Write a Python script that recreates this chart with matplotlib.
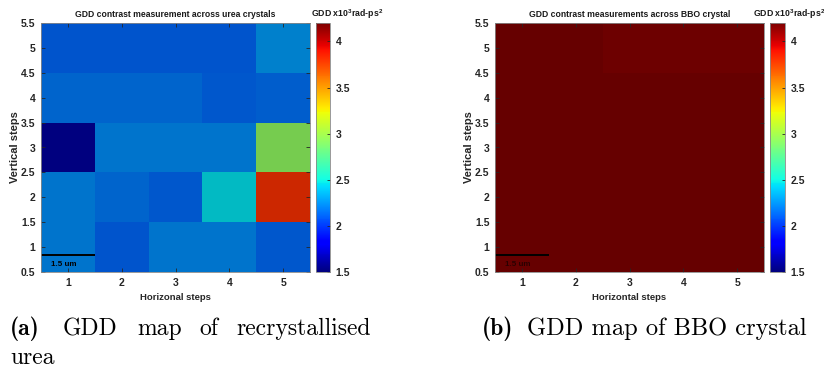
import numpy as np
import matplotlib
matplotlib.use("Agg")
import matplotlib.pyplot as plt
from matplotlib.colors import ListedColormap, Normalize
from matplotlib.cm import ScalarMappable

plt.rcParams['font.family'] = ['Liberation Sans', 'DejaVu Sans']
plt.rcParams['mathtext.fontset'] = 'custom'
plt.rcParams['mathtext.rm'] = 'Liberation Sans:bold'
plt.rcParams['mathtext.default'] = 'rm'

# GDD values (x10^3 rad-ps^2), rows are vertical steps 1..5, columns horizontal steps 1..5
urea_gdd = np.array([
    [2.22, 2.12, 2.22, 2.22, 2.13],
    [2.22, 2.17, 2.13, 2.45, 3.81],
    [1.58, 2.22, 2.22, 2.22, 2.93],
    [2.17, 2.17, 2.17, 2.13, 2.15],
    [2.12, 2.12, 2.12, 2.12, 2.26],
])
bbo_gdd = np.array([
    [4.25, 4.25, 4.25, 4.25, 4.25],
    [4.25, 4.25, 4.25, 4.25, 4.25],
    [4.25, 4.25, 4.25, 4.25, 4.25],
    [4.25, 4.25, 4.25, 4.25, 4.25],
    [4.25, 4.25, 4.17, 4.17, 4.17],
])
steps = [1, 2, 3, 4, 5]
ytick_vals = [0.5, 1, 1.5, 2, 2.5, 3, 3.5, 4, 4.5, 5, 5.5]
ytick_labels = ['0.5', '1', '1.5', '2', '2.5', '3', '3.5', '4', '4.5', '5', '5.5']
cbar_ticks = [1.5, 2, 2.5, 3, 3.5, 4]
vmin, vmax = 1.5, 4.2

# jet for the cells, a bit muted like the scanned figure
jet = plt.get_cmap('jet')(np.linspace(0, 1, 256))[:, :3] * 0.8
muted_jet = ListedColormap(jet)
norm = Normalize(vmin=vmin, vmax=vmax)

W, H = 824, 368
fig = plt.figure(figsize=(W / 100, H / 100), dpi=100)


def px(x0, y0, x1, y1):
    return [x0 / W, 1 - y1 / H, (x1 - x0) / W, (y1 - y0) / H]


panels = [
    (urea_gdd, 'GDD contrast measurement across urea crystals', 'Horizonal steps',
     px(41, 23, 310, 272), px(316, 23, 330, 272), 'black', 311),
    (bbo_gdd, 'GDD contrast measurements across BBO crystal', 'Horizontal steps',
     px(495, 23, 764, 272), px(770, 23, 785, 272), '#2a0000', 753),
]

tick_color = '#262626'
for data, title, xlabel, apos, cpos, barcol, lab_x in panels:
    ax = fig.add_axes(apos)
    edges = np.arange(0.5, 6.0, 1.0)
    ax.pcolormesh(edges, edges, data, cmap=muted_jet, norm=norm)
    ax.set_xlim(0.5, 5.5)
    ax.set_ylim(0.5, 5.5)
    ax.set_xticks(steps)
    ax.set_yticks(ytick_vals)
    ax.set_yticklabels(ytick_labels)
    ax.tick_params(direction='in', top=True, right=True, length=3, width=0.6,
                   labelsize=7.5, colors=tick_color, pad=4)
    for lab in ax.get_xticklabels() + ax.get_yticklabels():
        lab.set_fontweight('bold')
    for s in ax.spines.values():
        s.set_color('#888888')
        s.set_linewidth(0.6)
    ax.set_title(title, fontsize=6.2, fontweight='bold', color='#1a1a1a', pad=4)
    ax.set_xlabel(xlabel, fontsize=6.8, fontweight='bold', color='#262626', labelpad=4)
    ax.set_ylabel('Vertical steps', fontsize=8, fontweight='bold', color='#262626')
    ax.yaxis.set_label_coords(-0.078, 0.5)

    # scale bar
    ax.plot([0.5, 1.5], [0.85, 0.85], color='black', lw=1.4, solid_capstyle='butt')
    ax.text(0.68, 0.66, '1.5 um', fontsize=5.8, fontweight='bold', color=barcol, va='center')

    cax = fig.add_axes(cpos)
    cb = fig.colorbar(ScalarMappable(norm=norm, cmap='jet'), cax=cax, ticks=cbar_ticks)
    cb.ax.tick_params(direction='in', length=2.5, width=0.6, labelsize=7.5,
                      colors=tick_color, pad=4)
    cb.ax.set_yticklabels([f'{t:g}' for t in cbar_ticks])
    for lab in cb.ax.get_yticklabels():
        lab.set_fontweight('bold')
    cb.outline.set_edgecolor('#888888')
    cb.outline.set_linewidth(0.6)
    fig.text(lab_x / W, 1 - 21 / H, r'GDD x10$^{3}$rad-ps$^{2}$',
             fontsize=6.3, fontweight='bold', ha='left', va='bottom', color='#1a1a1a')

# captions (serif, LaTeX-like)
cap_size = 17
fig.text(10 / W, 1 - 335 / H, '(a)', family='cmb10', fontsize=cap_size)
for word, x in [('GDD', 63), ('map', 137), ('of', 199), ('recrystallised', 236)]:
    fig.text(x / W, 1 - 335 / H, word, family='cmr10', fontsize=cap_size)
fig.text(10 / W, 1 - 364 / H, 'urea', family='cmr10', fontsize=cap_size)
fig.text(482 / W, 1 - 335 / H, '(b)', family='cmb10', fontsize=cap_size)
fig.text(527 / W, 1 - 335 / H, 'GDD map of BBO crystal', family='cmr10', fontsize=17.6)

fig.savefig('out.png', dpi=100)
